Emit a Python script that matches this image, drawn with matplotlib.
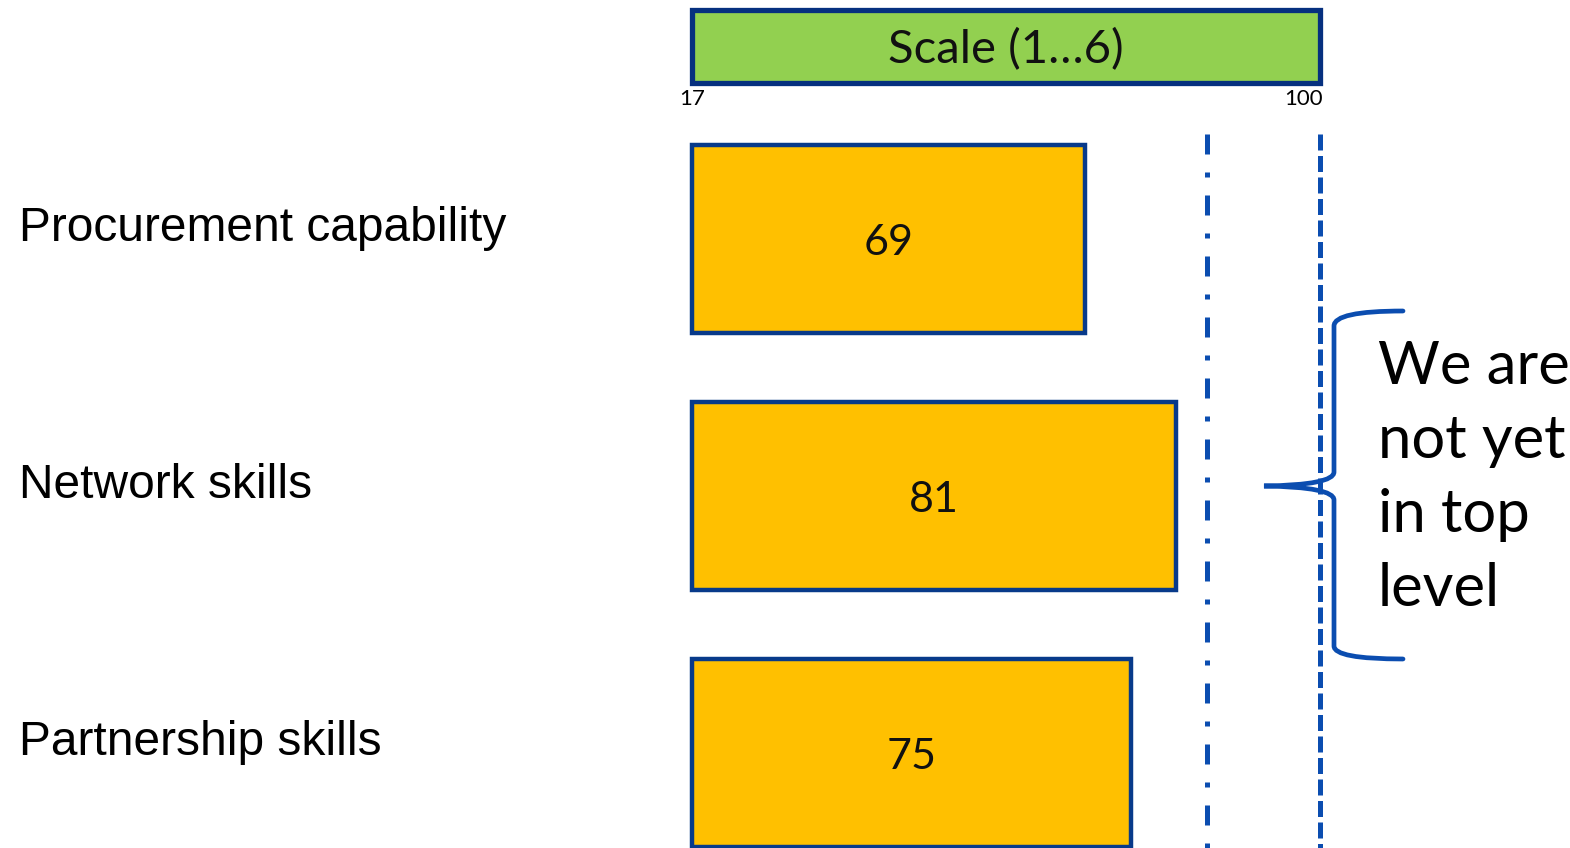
import matplotlib.pyplot as plt
from matplotlib.path import Path
from matplotlib.patches import PathPatch
from matplotlib.transforms import Affine2D

# data
categories = ['Procurement capability', 'Network skills', 'Partnership skills']
scores = [69, 81, 75]
scale_min = 17
scale_max = 100
scale_label = 'Scale (1…6)'
ref_lines = [85, 100]
note = 'We are\nnot yet\nin top\nlevel'

W, H = 1570, 848
fig = plt.figure(figsize=(W / 100, H / 100), dpi=100)
ax = fig.add_axes([692 / W, 0, 628 / W, 1])
ax.set_xlim(scale_min, scale_max)
ax.set_ylim(2.37, -0.93)
ax.axis('off')

# pixel coords (from top-left) for the decorations
px = Affine2D().scale(1 / W, -1 / H).translate(0, 1) + fig.transFigure

navy = '#083A8A'
blue = '#0B4DB0'

y = list(range(len(categories)))

# scale header box
ax.barh(-0.749, scale_max - scale_min, left=scale_min, height=0.284,
        color='#92D050', edgecolor='#06307F', linewidth=3.8, clip_on=False)
ax.text((scale_min + scale_max) / 2, -0.738, scale_label, ha='center', va='center',
        fontsize=34, family='Lato', color='#111111')
ax.text(scale_min, -0.545, str(scale_min), ha='center', va='center', fontsize=16, family='Lato')
ax.text(scale_max + 0.4, -0.545, str(scale_max), ha='right', va='center', fontsize=16, family='Lato')

# bars
widths = [s - scale_min for s in scores]
ax.barh(y, widths, left=scale_min, height=0.73, color='#FFC000',
        edgecolor=navy, linewidth=3.2, clip_on=False)
for yi, s in zip(y, scores):
    ax.text(scale_min + (s - scale_min) / 2, yi + 0.015, str(s), ha='center', va='center',
            fontsize=31, family='Lato', color='#111111')

# category labels on the left
for yi, c in zip(y, categories):
    ax.text(scale_min - 89, yi - 0.04, c, ha='left', va='center',
            fontsize=34.5, family='Liberation Sans', clip_on=False)

# reference lines
l1 = ax.vlines(ref_lines[0], -0.41, 2.37, color=blue, linewidth=3.6, clip_on=False)
l1.set_linestyle((0, (4.0, 3.6, 1.0, 3.6)))
l2 = ax.vlines(ref_lines[1], -0.41, 2.37, color=blue, linewidth=3.6, clip_on=False)
l2.set_linestyle((0, (3.2, 1.1)))

# curly brace
verts = [(1403, 311), (1334, 311), (1334, 326),
         (1334, 472),
         (1334, 485), (1264, 486),
         (1334, 487), (1334, 500),
         (1334, 646),
         (1334, 659), (1403, 659)]
codes = [Path.MOVETO, Path.CURVE3, Path.CURVE3,
         Path.LINETO,
         Path.CURVE3, Path.CURVE3,
         Path.CURVE3, Path.CURVE3,
         Path.LINETO,
         Path.CURVE3, Path.CURVE3]
fig.add_artist(PathPatch(Path(verts, codes), transform=px, facecolor='none',
                         edgecolor=blue, linewidth=3.4, capstyle='round'))

fig.text(1378, 478, note, transform=px, ha='left', va='center', fontsize=43,
         family='Lato', linespacing=1.45, color='black')

fig.savefig('out.png', dpi=100)
